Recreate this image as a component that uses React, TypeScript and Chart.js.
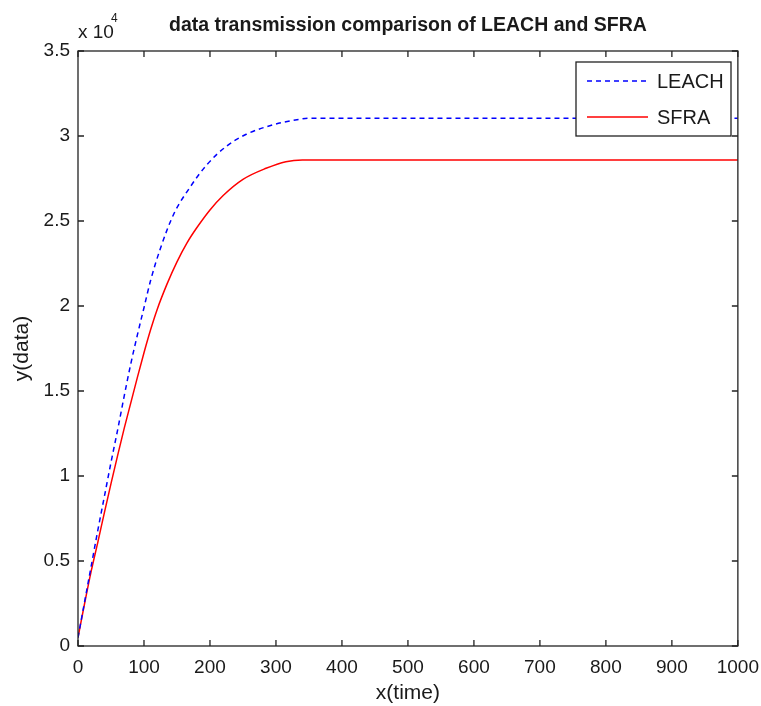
import React, { useEffect, useRef } from "react";
import { Chart, registerables } from "chart.js";

Chart.register(...registerables);

const titleText = "data transmission comparison of LEACH and SFRA";
const xLabel = "x(time)";
const yLabel = "y(data)";
const legendLabels = ["LEACH", "SFRA"];

const leachX = [0, 10, 20, 30, 40, 50, 60, 70, 80, 90, 100, 110, 125, 145, 170, 195, 225, 255, 295, 335, 350, 1000];
const leachY = [500, 2600, 4700, 6800, 8800, 10800, 12700, 14700, 16600, 18300, 19900, 21500, 23400, 25400, 27000, 28300, 29400, 30100, 30650, 30980, 31050, 31050];

const sfraX = [0, 10, 20, 30, 40, 50, 60, 70, 80, 90, 100, 110, 120, 135, 150, 165, 180, 200, 220, 250, 285, 315, 340, 1000];
const sfraY = [500, 2500, 4400, 6100, 7850, 9550, 11200, 12800, 14300, 15800, 17250, 18600, 19800, 21300, 22600, 23700, 24600, 25650, 26500, 27450, 28100, 28490, 28590, 28590];

const xTicks = [0, 100, 200, 300, 400, 500, 600, 700, 800, 900, 1000];
const yTicks = [0, 5000, 10000, 15000, 20000, 25000, 30000, 35000];

const FONT = "'Liberation Sans', Arial, sans-serif";
const TEXT = "#1a1a1a";

const decorPlugin = {
  id: "decor",
  afterDraw(chart: any) {
    const { ctx, chartArea } = chart;
    const { left, right, top, bottom } = chartArea;
    const xs = chart.scales.x;
    const ys = chart.scales.y;
    ctx.save();
    ctx.strokeStyle = "#222";
    ctx.lineWidth = 1.3;
    ctx.strokeRect(left, top, right - left, bottom - top);
    const tl = 6;
    ctx.beginPath();
    xTicks.forEach((v) => {
      const px = xs.getPixelForValue(v);
      ctx.moveTo(px, bottom);
      ctx.lineTo(px, bottom - tl);
      ctx.moveTo(px, top);
      ctx.lineTo(px, top + tl);
    });
    yTicks.forEach((v) => {
      const py = ys.getPixelForValue(v);
      ctx.moveTo(left, py);
      ctx.lineTo(left + tl, py);
      ctx.moveTo(right, py);
      ctx.lineTo(right - tl, py);
    });
    ctx.stroke();

    // title
    ctx.fillStyle = TEXT;
    ctx.textAlign = "center";
    ctx.textBaseline = "middle";
    ctx.font = `bold 19.5px ${FONT}`;
    ctx.fillText(titleText, (left + right) / 2, 26);

    // exponent
    ctx.textAlign = "left";
    ctx.font = `19px ${FONT}`;
    ctx.fillText("x 10", 78, 33);
    ctx.font = `12px ${FONT}`;
    ctx.fillText("4", 111, 19);

    // axis titles
    ctx.textAlign = "center";
    ctx.font = `21px ${FONT}`;
    ctx.fillText(xLabel, (left + right) / 2, 693);
    ctx.save();
    ctx.translate(22, (top + bottom) / 2);
    ctx.rotate(-Math.PI / 2);
    ctx.fillText(yLabel, 0, 0);
    ctx.restore();

    // legend
    const bx = 576, by = 62, bw = 155, bh = 74;
    ctx.fillStyle = "#fff";
    ctx.fillRect(bx, by, bw, bh);
    ctx.strokeStyle = "#222";
    ctx.lineWidth = 1.3;
    ctx.strokeRect(bx, by, bw, bh);
    const rows = [81, 117];
    chart.data.datasets.forEach((ds: any, i: number) => {
      ctx.beginPath();
      ctx.strokeStyle = ds.borderColor;
      ctx.lineWidth = ds.borderWidth;
      ctx.setLineDash(ds.borderDash || []);
      ctx.moveTo(587, rows[i]);
      ctx.lineTo(648, rows[i]);
      ctx.stroke();
      ctx.setLineDash([]);
      ctx.fillStyle = TEXT;
      ctx.textAlign = "left";
      ctx.font = `20px ${FONT}`;
      ctx.fillText(legendLabels[i], 657, rows[i] + 1);
    });
    ctx.restore();
  },
};

export default function App() {
  const ref = useRef<HTMLCanvasElement | null>(null);
  useEffect(() => {
    if (!ref.current) return;
    const chart = new Chart(ref.current, {
      type: "line",
      data: {
        datasets: [
          {
            label: legendLabels[0],
            data: leachX.map((x, i) => ({ x, y: leachY[i] })),
            borderColor: "#0000ff",
            borderWidth: 1.5,
            borderDash: [5, 4],
            pointRadius: 0,
            cubicInterpolationMode: "monotone",
            fill: false,
          },
          {
            label: legendLabels[1],
            data: sfraX.map((x, i) => ({ x, y: sfraY[i] })),
            borderColor: "#ff0000",
            borderWidth: 1.5,
            pointRadius: 0,
            cubicInterpolationMode: "monotone",
            fill: false,
          },
        ],
      },
      options: {
        responsive: false,
        animation: false,
        layout: { padding: { top: 51, right: 14, left: 0, bottom: 0 } },
        plugins: { legend: { display: false }, title: { display: false }, tooltip: { enabled: false } },
        scales: {
          x: {
            type: "linear",
            min: 0,
            max: 1000,
            afterBuildTicks: (s: any) => { s.ticks = xTicks.map((v) => ({ value: v })); },
            afterFit: (s: any) => { s.height = 60; },
            grid: { display: false },
            border: { display: false },
            ticks: {
              padding: 2,
              color: TEXT,
              font: { family: FONT, size: 19 },
              maxRotation: 0,
              autoSkip: false,
              callback: (v: any) => String(v),
            },
          },
          y: {
            type: "linear",
            min: 0,
            max: 35000,
            afterBuildTicks: (s: any) => { s.ticks = yTicks.map((v) => ({ value: v })); },
            afterFit: (s: any) => { s.width = 78; },
            grid: { display: false },
            border: { display: false },
            ticks: {
              padding: 0,
              color: TEXT,
              font: { family: FONT, size: 19 },
              autoSkip: false,
              callback: (v: any) => String(Number(v) / 10000),
            },
          },
        },
      },
      plugins: [decorPlugin],
    });
    return () => chart.destroy();
  }, []);
  return (
    <div style={{ position: "fixed", left: 0, top: 0, width: 761, height: 706, background: "#fff" }}>
      <canvas ref={ref} width={761} height={706} />
    </div>
  );
}
